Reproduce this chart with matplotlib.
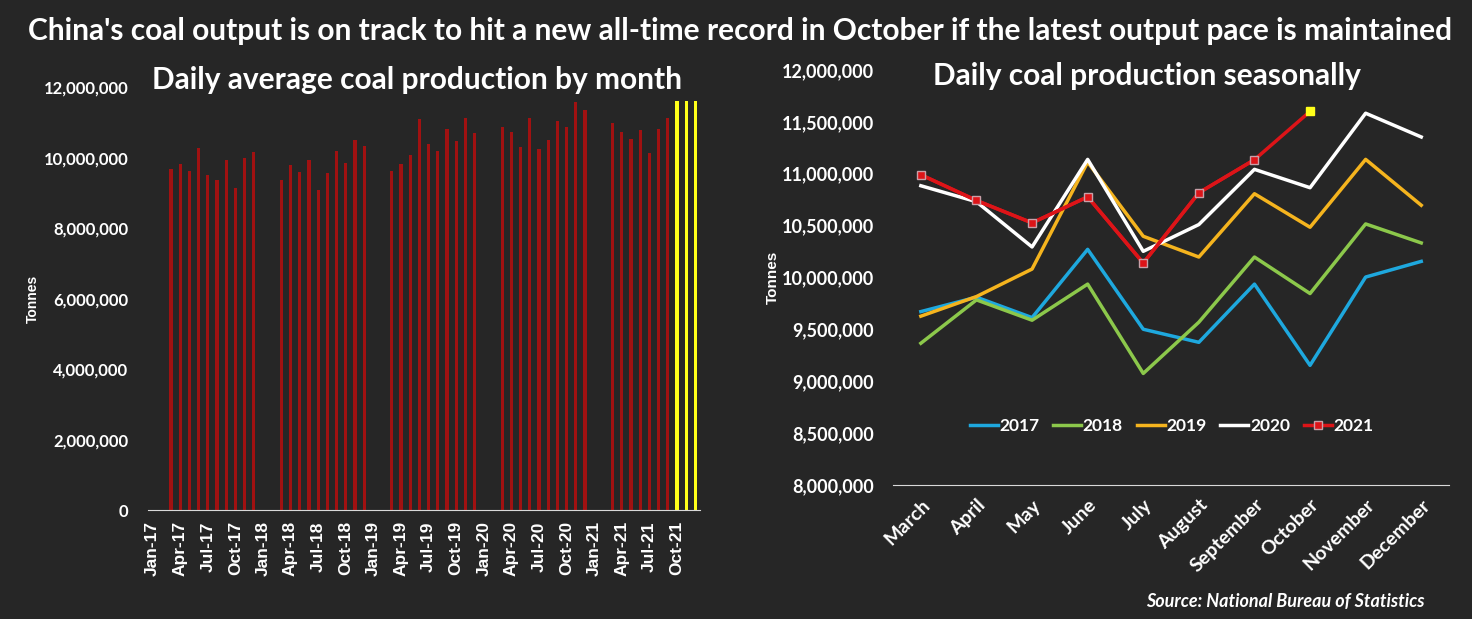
import matplotlib.pyplot as plt
from matplotlib.ticker import FuncFormatter
import numpy as np

plt.rcParams['font.family'] = ['Lato', 'DejaVu Sans']
plt.rcParams['font.weight'] = 'bold'

BG = '#262626'

months = ['March', 'April', 'May', 'June', 'July', 'August',
          'September', 'October', 'November', 'December']
years = ['2017', '2018', '2019', '2020', '2021']

# daily coal output, tonnes, March..December
y2017 = [9671000, 9810000, 9613000, 10271000, 9501000, 9375000, 9936000, 9153000, 10004000, 10155000]
y2018 = [9366000, 9784000, 9588000, 9936000, 9075000, 9569000, 10197000, 9845000, 10516000, 10333000]
y2019 = [9627000, 9816000, 10081000, 11112000, 10397000, 10197000, 10807000, 10484000, 11138000, 10696000]
y2020 = [10884000, 10730000, 10294000, 11138000, 10252000, 10510000, 11042000, 10865000, 11583000, 11354000]
y2021 = [10990000, 10742000, 10526000, 10777000, 10139000, 10816000, 11135000]
oct2021_pace = 11600000
pace_bars = [11600000, 11600000, 11600000]  # Oct-Dec 2021

month_abbr = ['Jan', 'Feb', 'Mar', 'Apr', 'May', 'Jun', 'Jul', 'Aug', 'Sep', 'Oct', 'Nov', 'Dec']

# build the monthly series (Jan/Feb are not published separately)
red_vals = []
for vals in [y2017, y2018, y2019, y2020]:
    red_vals += [np.nan, np.nan] + vals
red_vals += [np.nan, np.nan] + y2021 + [np.nan] * 3
yellow_vals = [np.nan] * 57 + pace_bars
labels = [f'{m}-{y[2:]}' for y in years for m in month_abbr]
xpos = np.arange(len(labels))

fig = plt.figure(figsize=(14.72, 6.19), dpi=100, facecolor=BG)

fmt = FuncFormatter(lambda v, p: f'{int(v):,}')

# ---- left: monthly bars
ax1 = fig.add_axes([0.1005, 0.176, 0.375, 0.683], facecolor=BG)
ax1.bar(xpos, red_vals, width=0.35, color='#a11111')
ax1.bar(xpos, yellow_vals, width=0.35, color='#ffff1a')
ax1.set_xlim(-0.5, len(labels) - 0.5)
ax1.set_ylim(0, 12000000)
ax1.set_yticks(np.arange(0, 12000001, 2000000))
ax1.yaxis.set_major_formatter(fmt)
ax1.set_xticks(xpos[::3])
ax1.set_xticklabels(labels[::3], rotation=90,
                    fontdict={'family': 'Liberation Sans', 'size': 12.5, 'weight': 'bold'})
for s in ['left', 'right', 'top']:
    ax1.spines[s].set_visible(False)
ax1.spines['bottom'].set_color('#d9d9d9')
ax1.tick_params(colors='white', length=0, pad=8)
ax1.tick_params(axis='y', labelsize=12, pad=14)
ax1.set_ylabel('Tonnes', color='white', fontsize=10, fontweight='bold',
               family='Liberation Sans', labelpad=3)

# ---- right: seasonal lines
ax2 = fig.add_axes([0.6067, 0.2165, 0.3777, 0.6705], facecolor=BG)
mx = np.arange(len(months))
ax2.plot(mx, y2017, color='#1ea8de', lw=2.5, label='2017')
ax2.plot(mx, y2018, color='#8cc84b', lw=2.5, label='2018')
ax2.plot(mx, y2019, color='#f5b41e', lw=2.5, label='2019')
ax2.plot(mx, y2020, color='white', lw=2.5, label='2020')
ax2.plot(mx[:8], y2021 + [oct2021_pace], color='#dd1418', lw=2.5, zorder=4)
ax2.plot(mx[:7], y2021, color='#dd1418', lw=2.5, marker='s', ms=5.5,
         mfc='#dd1418', mec='#c9a0a8', mew=1, label='2021', zorder=5)
ax2.plot([mx[7]], [oct2021_pace], ls='none', marker='s', ms=6, color='#ffff1a', zorder=6)
ax2.set_xlim(-0.5, len(months) - 0.5)
ax2.set_ylim(8000000, 12000000)
ax2.set_yticks(np.arange(8000000, 12000001, 500000))
ax2.yaxis.set_major_formatter(fmt)
ax2.set_xticks(mx)
ax2.set_xticklabels(months, rotation=45, ha='right', rotation_mode='anchor',
                    fontsize=14, fontweight='bold')
for s in ['left', 'right', 'top']:
    ax2.spines[s].set_visible(False)
ax2.spines['bottom'].set_color('#d9d9d9')
ax2.tick_params(colors='white', length=0)
ax2.tick_params(axis='y', labelsize=13, pad=14)
ax2.tick_params(axis='x', pad=8)
ax2.set_ylabel('Tonnes', color='white', fontsize=11, fontweight='bold',
               family='Liberation Sans', labelpad=1)
leg = ax2.legend(loc='center', bbox_to_anchor=(0.501, 0.142), ncol=5, frameon=False,
                 fontsize=12.5, handlelength=1.6, handletextpad=0.1, columnspacing=0.8,
                 labelcolor='white')

fig.text(0.283, 0.871, 'Daily average coal production by month', color='white',
         fontsize=21.5, fontweight='bold', ha='center', va='center')
fig.text(0.779, 0.877, 'Daily coal production seasonally', color='white',
         fontsize=21.5, fontweight='bold', ha='center', va='center')
fig.text(0.503, 0.950, "China's coal output is on track to hit a new all-time record in October "
         "if the latest output pace is maintained", color='white', fontsize=21.5,
         fontweight='bold', ha='center', va='center')
fig.text(0.968, 0.029, 'Source: National Bureau of Statistics', color='white', fontsize=13,
         fontweight='bold', style='italic', ha='right', va='center')

fig.savefig('out.png', dpi=100, facecolor=BG)
